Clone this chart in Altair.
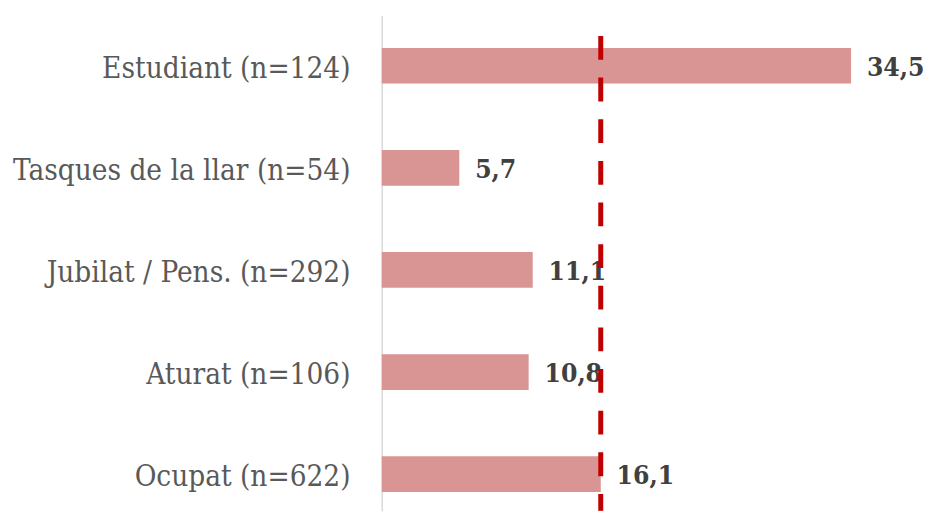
import altair as alt
import pandas as pd

categories = ["Estudiant (n=124)", "Tasques de la llar (n=54)", "Jubilat / Pens. (n=292)", "Aturat (n=106)", "Ocupat (n=622)"]
values = [34.5, 5.7, 11.1, 10.8, 16.1]
labels = ["34,5", "5,7", "11,1", "10,8", "16,1"]
reference = [16.1]

df = pd.DataFrame({"cat": categories, "value": values, "label": labels})
ref_df = pd.DataFrame({"ref": reference})

xscale = alt.Scale(domain=[0, 36], nice=False, zero=True)
x = alt.X("value:Q", scale=xscale, axis=None)
y = alt.Y(
    "cat:N",
    sort=categories,
    scale=alt.Scale(paddingInner=0.6505, paddingOuter=0.2524, align=0.635),
    axis=alt.Axis(
        title=None, domain=True, domainColor="#D9D9D9", domainWidth=1.5,
        ticks=False, labelFont="DejaVu Serif Condensed", labelFontSize=29.7,
        labelColor="#595959", labelPadding=32, labelLimit=0, labelOffset=3,
    ),
)

base = alt.Chart(df)
bars = base.mark_bar(color="#D99594").encode(x=x, y=y)
text = base.mark_text(
    align="left", baseline="middle", dx=16, dy=2, font="DejaVu Serif Condensed",
    fontWeight="bold", fontSize=26.5, color="#404040",
).encode(x=x, y=y, text="label:N")

rule = alt.Chart(ref_df).mark_rule(
    color="#C00000", strokeWidth=5, strokeDash=[24, 18]
).encode(
    x=alt.X("ref:Q", scale=xscale),
    y=alt.value(21), y2=alt.value(500),
)

chart = alt.layer(bars, text, rule).properties(
    width=494, height=500,
    autosize=alt.AutoSizeParams(type="none"),
    padding={"left": 377, "top": 5, "right": 53, "bottom": 2},
).configure_view(stroke=None)

chart.save("out.html", embed_options={"renderer": "svg", "actions": False})
